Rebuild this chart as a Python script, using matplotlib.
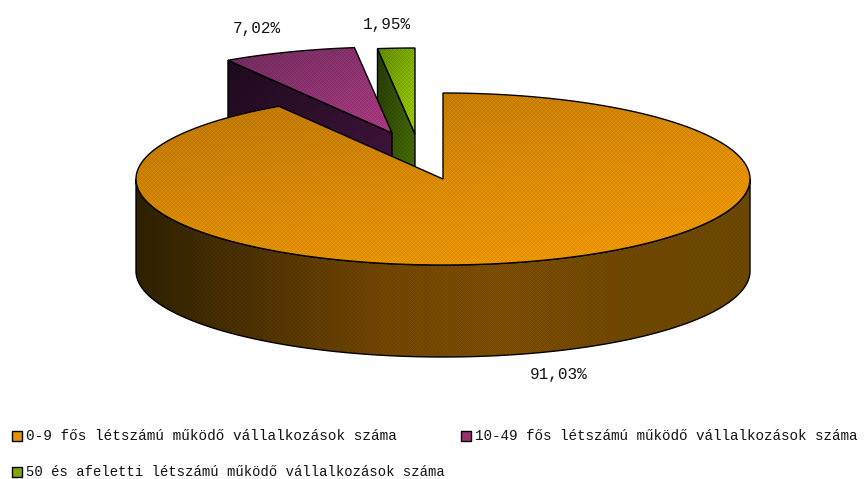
import numpy as np
import matplotlib
matplotlib.use("Agg")
import matplotlib.pyplot as plt
from matplotlib.colors import LinearSegmentedColormap
from matplotlib.patches import Polygon, Rectangle

labels = ["0-9 fős létszámú működő vállalkozások száma",
          "10-49 fős létszámú működő vállalkozások száma",
          "50 és afeletti létszámú működő vállalkozások száma"]
values = [91.03, 7.02, 1.95]
value_labels = ["91,03%", "7,02%", "1,95%"]
swatch_colors = ["#e39200", "#96336f", "#7fa800"]

# pie geometry, in image pixels
RX, RY, DEPTH = 307, 86, 92
centers = [(443, 179), (392, 133), (415, 134)]
label_pos = [(559, 374), (257, 28), (387, 24)]
legend_pos = [(12, 436), (461, 436), (12, 472)]
legend_sizes = [10.4, 10.3, 10.0]
legend_gap = 14

fig = plt.figure(figsize=(8.65, 4.79), dpi=100)
ax = fig.add_axes([0, 0, 1, 1])
ax.set_xlim(0, 865)
ax.set_ylim(479, 0)
ax.autoscale(False)
ax.axis("off")


def rim(c, a0, a1, n=200):
    # angle runs clockwise from 12 o'clock, in fractions of the full circle
    t = np.linspace(a0, a1, n) * 2 * np.pi
    return np.column_stack([c[0] + RX * np.sin(t), c[1] - RY * np.cos(t)])


def fill(points, colors, z, direction=(1, 1), lw=1):
    # gradient with a fine dither, clipped to the polygon
    pts = np.asarray(points, dtype=float)
    x0, y0 = np.floor(pts.min(axis=0))
    x1, y1 = np.ceil(pts.max(axis=0))
    w, h = max(int(x1 - x0), 1), max(int(y1 - y0), 1)
    yy, xx = np.mgrid[0:h, 0:w]
    t = (xx / w) * direction[0] + (yy / h) * direction[1]
    t = (t - t.min()) / max(np.ptp(t), 1e-9)
    cmap = LinearSegmentedColormap.from_list("g", colors)
    rgb = cmap(t)[..., :3]
    dither = 1 + 0.07 * (((xx + yy) % 2) * 2 - 1) * ((xx % 4 < 2) ^ (yy % 4 < 2))
    rgb = np.clip(rgb * dither[..., None], 0, 1)
    patch = Polygon(pts, fc="none", ec="black", lw=lw, zorder=z + 0.1)
    ax.add_patch(patch)
    im = ax.imshow(rgb, extent=(x0, x1, y1, y0), aspect="auto", interpolation="nearest", zorder=z)
    im.set_clip_path(patch)


def draw_slice(c, a0, a1, top, face, z):
    arc = rim(c, a0, a1)
    tip = np.array(c, dtype=float)
    down = np.array([0, DEPTH])
    # the cut face that looks at the viewer
    fill([arc[0], tip, tip + down, arc[0] + down], face, z)
    fill(np.vstack([tip, arc]), top, z + 0.2)


starts = np.cumsum([0] + values[:-1]) / 100
ends = np.cumsum(values) / 100

# green first, purple over it, the big slice over both
draw_slice(centers[2], starts[2], ends[2], ["#5f8a00", "#9ccb00"], ["#243a04", "#4d7206"], 2)
draw_slice(centers[1], starts[1], ends[1], ["#6e2a5c", "#a93a80"], ["#1e0a1e", "#45163f"], 3)

# wall of the big slice, only the front half shows
c = centers[0]
front = rim(c, 0.25, 0.75, 300)
fill(np.vstack([front, (front + [0, DEPTH])[::-1]]),
     ["#2e2000", "#4e3300", "#704500", "#7a4d00", "#6e4700", "#6b4700"], 4, direction=(1, 0))

arc = rim(c, starts[0], ends[0], 500)
fill(np.vstack([c, arc]), ["#b87400", "#d98a00", "#f29a00"], 5, direction=(0.7, 1))

for txt, (x, y) in zip(value_labels, label_pos):
    ax.text(x, y, txt, ha="center", va="center", family="Liberation Mono", fontsize=11.5, color="#111111")

for txt, col, size, (x, y) in zip(labels, swatch_colors, legend_sizes, legend_pos):
    ax.add_patch(Rectangle((x, y - 5), 10, 10, fc=col, ec="black", lw=1))
    ax.text(x + legend_gap, y, txt, ha="left", va="center", family="Liberation Mono", fontsize=size, color="#111111")

fig.savefig("out.png", dpi=100)
